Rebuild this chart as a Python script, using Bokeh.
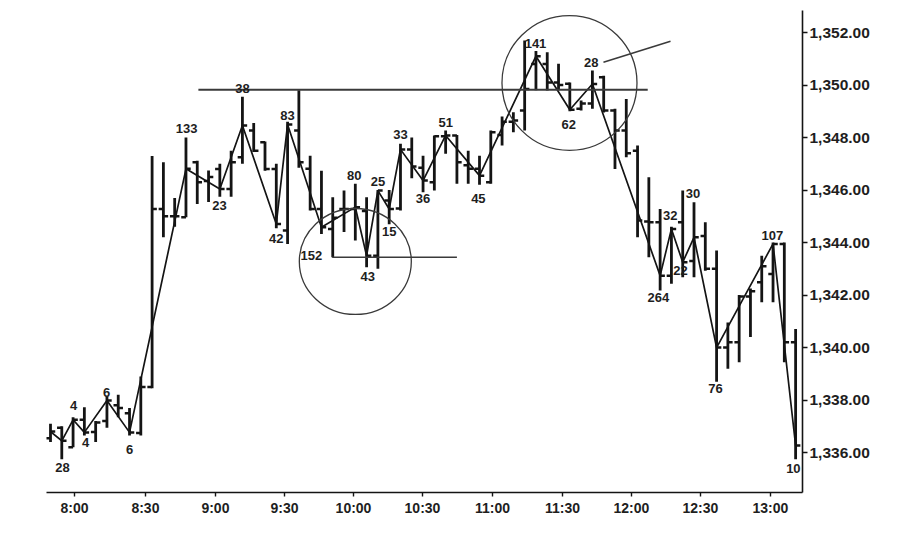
from bokeh.plotting import figure
from bokeh.models import Range1d, FixedTicker, NumeralTickFormatter, ColumnDataSource
from bokeh.core.properties import value
from bokeh.embed import file_html
from bokeh.resources import INLINE

# ---------------- data ----------------
bar_index = list(range(67))
opens = [1336.55, 1336.95, 1336.2, 1337.25, 1336.78, 1337.2, 1337.8, 1337.5, 1336.75, 1338.5,
         1345.28, 1345.0, 1344.96, 1347.06, 1346.35, 1346.8, 1346.04, 1347.25, 1348.27, 1347.82,
         1346.8, 1344.46, 1348.27, 1346.81, 1345.28, 1344.52, 1345.28, 1345.28, 1345.2, 1343.5,
         1345.6, 1345.3, 1347.55, 1346.85, 1346.3, 1348.05, 1348.08, 1346.95, 1346.81, 1346.3,
         1348.1, 1348.6, 1349.03, 1350.8, 1350.8, 1350.1, 1350.05, 1349.1, 1349.3, 1350.3,
         1349.03, 1348.27, 1347.5, 1344.8, 1344.77, 1342.74, 1344.77, 1343.3, 1344.25, 1343.0,
         1340.0, 1340.2, 1341.95, 1342.49, 1342.8, 1343.95, 1340.2]
highs = [1337.1, 1337.0, 1337.35, 1337.73, 1337.2, 1338.15, 1338.2, 1337.7, 1338.9, 1347.3,
         1347.06, 1345.7, 1348.0, 1347.12, 1346.75, 1347.0, 1347.5, 1349.55, 1348.55, 1347.85,
         1347.0, 1348.6, 1349.8, 1347.31, 1346.74, 1345.73, 1345.98, 1346.24, 1345.73, 1346.0,
         1346.0, 1347.76, 1348.0, 1347.31, 1348.08, 1348.27, 1348.1, 1347.5, 1347.31, 1348.27,
         1348.8, 1348.96, 1351.7, 1351.3, 1351.25, 1350.81, 1350.1, 1349.41, 1350.55, 1350.35,
         1349.1, 1349.47, 1347.7, 1346.49, 1345.28, 1344.6, 1345.98, 1345.54, 1344.77, 1343.7,
         1340.96, 1342.0, 1342.25, 1343.5, 1344.0, 1344.0, 1340.71]
lows = [1336.4, 1335.75, 1336.2, 1336.65, 1336.4, 1336.95, 1337.35, 1336.65, 1336.65, 1338.45,
        1344.2, 1344.6, 1344.96, 1345.47, 1345.55, 1345.75, 1345.75, 1347.0, 1347.45, 1346.74,
        1344.55, 1343.95, 1346.85, 1345.22, 1344.33, 1343.44, 1344.4, 1344.08, 1343.06, 1343.0,
        1344.7, 1345.22, 1346.45, 1345.92, 1345.98, 1347.38, 1346.24, 1346.24, 1346.2, 1346.24,
        1347.7, 1348.2, 1348.27, 1349.8, 1349.79, 1349.8, 1349.0, 1349.03, 1349.1, 1348.95,
        1346.8, 1347.25, 1344.2, 1343.44, 1342.17, 1342.43, 1342.68, 1342.68, 1342.93, 1338.7,
        1339.19, 1339.44, 1340.4, 1341.73, 1341.73, 1339.44, 1335.75]
closes = [1336.8, 1336.45, 1337.25, 1336.77, 1337.15, 1337.98, 1337.7, 1336.77, 1338.5, 1345.28,
          1345.0, 1345.0, 1346.81, 1346.3, 1346.5, 1346.04, 1347.06, 1348.46, 1347.5, 1346.8,
          1344.71, 1348.5, 1347.06, 1345.28, 1344.58, 1344.95, 1345.28, 1345.35, 1343.5, 1345.98,
          1345.28, 1347.55, 1346.9, 1346.36, 1348.05, 1348.08, 1347.06, 1346.81, 1346.55, 1348.2,
          1348.6, 1348.65, 1349.85, 1351.1, 1350.1, 1350.0, 1349.06, 1349.3, 1350.04, 1349.03,
          1348.27, 1347.4, 1344.84, 1344.77, 1342.74, 1344.52, 1343.25, 1344.2, 1343.0, 1340.0,
          1340.2, 1341.95, 1342.15, 1343.1, 1343.95, 1340.2, 1336.27]

# swing pivots (bar numbers) - line joins their closes
swing_bars = [0, 1, 2, 3, 5, 7, 12, 15, 17, 20, 21, 24, 27, 28, 29, 30, 31, 33, 35, 38,
              43, 46, 48, 54, 55, 56, 57, 59, 64, 66]

# pivot labels
label_text = ["28", "4", "4", "6", "6", "133", "23", "38", "42", "83", "152", "80", "43", "25",
              "15", "33", "36", "51", "45", "141", "62", "28", "264", "32", "22", "30", "76",
              "107", "10"]
label_bar = [1.06, 2.04, 3.1, 4.96, 7.0, 12.05, 14.97, 17.0, 20.0, 21.0, 23.1, 26.9, 28.1, 29.0,
             30.0, 31.0, 33.0, 35.0, 37.9, 42.96, 45.9, 47.9, 53.85, 54.9, 55.8, 56.9, 58.9,
             63.95, 65.8]
label_price = [1335.43, 1337.79, 1336.38, 1338.29, 1336.11, 1348.34, 1345.41, 1349.87, 1344.15,
               1348.84, 1343.5, 1346.55, 1342.7, 1346.32, 1344.42, 1348.11, 1345.68, 1348.57,
               1345.68, 1351.58, 1348.5, 1350.86, 1341.9, 1345.03, 1342.93, 1345.87, 1338.44,
               1344.27, 1335.39]

# drawn annotations
resist_bars = [13.1, 52.9]
resist_price = [1349.82, 1349.82]
support_bars = [24.95, 36.0]
support_price = [1343.44, 1343.44]
pointer_bars = [48.98, 54.92]
pointer_price = [1350.87, 1351.67]
circle_bar = [27.0, 45.97]
circle_price = [1343.28, 1350.08]
circle_w = [9.92, 11.96]
circle_h = [4.04, 5.14]

# axis ticks
time_tick_pos = [2.13, 8.41, 14.61, 20.73, 26.84, 32.95, 39.15, 45.35, 51.46, 57.57, 63.77]
time_tick_labels = ["8:00", "8:30", "9:00", "9:30", "10:00", "10:30", "11:00", "11:30",
                    "12:00", "12:30", "13:00"]
price_ticks = [1336, 1338, 1340, 1342, 1344, 1346, 1348, 1350, 1352]

# ---------------- figure ----------------
p = figure(frame_width=756, frame_height=482,
           min_border_left=46, min_border_top=10, min_border_right=10, min_border_bottom=10,
           x_range=Range1d(-0.354, 66.61), y_range=Range1d(1334.48, 1352.84),
           y_axis_location="right", output_backend="svg", toolbar_location=None, tools="")
p.xgrid.visible = False
p.ygrid.visible = False
p.outline_line_color = None
p.background_fill_color = "white"
p.border_fill_color = "white"

ink = "#141414"
tick_half = 0.42
src = ColumnDataSource(dict(
    x=bar_index, o=opens, h=highs, l=lows, c=closes,
    xl=[i - tick_half for i in bar_index], xr=[i + tick_half for i in bar_index]))

p.segment(x0="x", y0="l", x1="x", y1="h", source=src, line_color=ink, line_width=2.8, line_cap="butt")
p.segment(x0="xl", y0="o", x1="x", y1="o", source=src, line_color=ink, line_width=2.5, line_cap="butt")
p.segment(x0="x", y0="c", x1="xr", y1="c", source=src, line_color=ink, line_width=2.5, line_cap="butt")

p.line(x=swing_bars, y=[closes[i] for i in swing_bars], line_color=ink, line_width=1.7)

p.line(x=resist_bars, y=resist_price, line_color="#3a3a3a", line_width=2.0)
p.line(x=support_bars, y=support_price, line_color="#3a3a3a", line_width=1.6)
p.line(x=pointer_bars, y=pointer_price, line_color="#3a3a3a", line_width=1.6)
p.ellipse(x=circle_bar, y=circle_price, width=circle_w, height=circle_h,
          fill_color=None, line_color="#3a3a3a", line_width=1.3)

p.text(x=label_bar, y=label_price, text=label_text, text_font=value("Liberation Sans"),
       text_font_style="bold", text_font_size="13px", text_color="#1e1e1e",
       text_align="center", text_baseline="middle")

# axes
xa = p.xaxis[0]
xa.ticker = FixedTicker(ticks=time_tick_pos)
xa.major_label_overrides = {pos: lab for pos, lab in zip(time_tick_pos, time_tick_labels)}
xa.axis_line_color = ink
xa.axis_line_width = 1.6
xa.major_tick_line_color = ink
xa.major_tick_line_width = 1.4
xa.major_tick_out = 4
xa.major_tick_in = 0
xa.minor_tick_line_color = None
xa.major_label_standoff = 3
xa.major_label_text_font = "Liberation Sans"
xa.major_label_text_font_style = "bold"
xa.major_label_text_font_size = "14px"
xa.major_label_text_color = "#1e1e1e"

ya = p.yaxis[0]
ya.ticker = FixedTicker(ticks=price_ticks)
ya.formatter = NumeralTickFormatter(format="0,0.00")
ya.axis_line_color = ink
ya.axis_line_width = 1.6
ya.major_tick_line_color = ink
ya.major_tick_line_width = 1.4
ya.major_tick_out = 5
ya.major_tick_in = 0
ya.minor_tick_line_color = None
ya.major_label_standoff = 2
ya.major_label_text_font = "Liberation Sans"
ya.major_label_text_font_style = "bold"
ya.major_label_text_font_size = "15.5px"
ya.major_label_text_color = "#1e1e1e"

open("out.html", "w").write(file_html(p, INLINE))
